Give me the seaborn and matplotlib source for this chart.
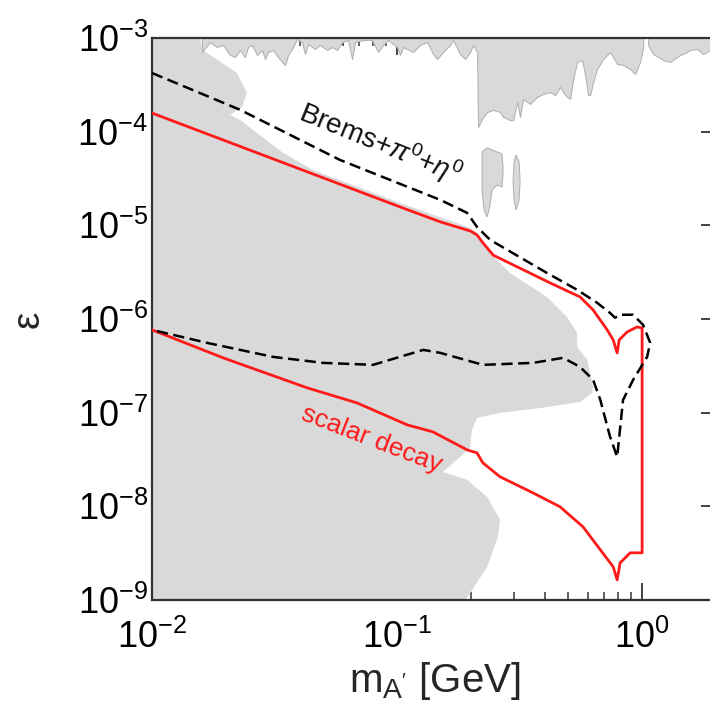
import numpy as np
import pandas as pd
import seaborn as sns
import matplotlib.pyplot as plt

# ---------- data (mass in GeV, epsilon) ----------
# red solid contour, upper and lower branches (left to right)
red_upper_m = [0.0100, 0.103, 0.150, 0.199, 0.212, 0.224, 0.247, 0.421, 0.558,
               0.631, 0.720, 0.762, 0.791, 0.806, 0.869, 0.955, 1.0]
red_upper_eps = [1.58e-4, 1.57e-5, 1.09e-5, 8.7e-6, 7.9e-6, 6.5e-6, 4.8e-6, 2.43e-6, 1.72e-6,
                 1.25e-6, 7.66e-7, 5.98e-7, 4.35e-7, 5.98e-7, 7.28e-7, 8.24e-7, 8.0e-7]
red_lower_m = [0.0100, 0.0195, 0.0430, 0.0687, 0.110, 0.140, 0.193, 0.212, 0.224, 0.263,
               0.359, 0.462, 0.574, 0.675, 0.762, 0.791, 0.813, 0.894, 1.0]
red_lower_eps = [7.66e-7, 3.85e-7, 1.84e-7, 1.27e-7, 7.41e-8, 6.24e-8, 4.01e-8, 3.72e-8, 2.91e-8, 2.07e-8,
                 1.39e-8, 9.9e-9, 6.04e-9, 3.44e-9, 2.26e-9, 1.64e-9, 2.49e-9, 3.19e-9, 3.19e-9]

# black dashed contour (Brems + pi0 + eta0), traced as one closed path
brems_m = [0.0100, 0.0229, 0.0585, 0.150, 0.193, 0.212, 0.240, 0.409, 0.543, 0.655,
           0.740, 0.776, 0.813, 0.919, 1.009, 1.079, 1.048, 0.919, 0.836, 0.791,
           0.740, 0.675, 0.631, 0.558, 0.476, 0.359, 0.224, 0.150, 0.128, 0.0798,
           0.0499, 0.0312, 0.0168, 0.0100]
brems_eps = [4.23e-4, 1.71e-4, 4.99e-5, 1.87e-5, 1.36e-5, 9.6e-6, 6.98e-6, 3.10e-6, 2.05e-6, 1.49e-6,
             1.16e-6, 1.03e-6, 1.11e-6, 1.11e-6, 8.65e-7, 5.56e-7, 3.94e-7, 2.24e-7, 1.37e-7, 3.37e-8,
             5.52e-8, 1.37e-7, 2.24e-7, 3.08e-7, 3.85e-7, 3.40e-7, 3.24e-7, 4.35e-7, 4.68e-7, 3.24e-7,
             3.40e-7, 3.94e-7, 5.56e-7, 7.66e-7]

# excluded region (grey), lower left
excl_m = [0.01, 0.01, 0.0157, 0.0161, 0.0222, 0.0244, 0.0233, 0.0208, 0.0229, 0.0343,
          0.0454, 0.103, 0.199, 0.212, 0.240, 0.289, 0.409, 0.494, 0.543, 0.543,
          0.597, 0.631, 0.627, 0.558, 0.384, 0.263, 0.212, 0.202, 0.199, 0.181,
          0.154, 0.193, 0.233, 0.263, 0.258, 0.233, 0.199, 0.190]
excl_eps = [1e-9, 1e-3, 1e-3, 7.45e-4, 4.23e-4, 2.59e-4, 1.84e-4, 1.51e-4, 1.33e-4, 5.93e-5,
            3.90e-5, 1.73e-5, 9.4e-6, 8.3e-6, 5.07e-6, 3.10e-6, 1.72e-6, 1.05e-6, 7.11e-7, 5.04e-7,
            3.66e-7, 1.88e-7, 1.63e-7, 1.30e-7, 1.12e-7, 9.95e-8, 8.8e-8, 6.55e-8, 4.31e-8, 3.37e-8,
            2.33e-8, 1.92e-8, 1.26e-8, 7.18e-9, 4.72e-9, 2.26e-9, 1.19e-9, 1e-9]

# excluded region hanging from the top (lower edge), two pieces
top1_m = [0.0160, 0.01725, 0.01842, 0.01949, 0.02082, 0.02182, 0.02287, 0.02396, 0.02465, 0.02559,
          0.02683, 0.02812, 0.02892, 0.02975, 0.03118, 0.03268, 0.03491, 0.03591, 0.03728, 0.03906,
          0.04095, 0.04212, 0.04332, 0.04627, 0.04850, 0.05179, 0.05428, 0.05690, 0.05964, 0.0631,
          0.06551, 0.06739, 0.07263, 0.07906, 0.08365, 0.08768, 0.09190, 0.1, 0.1028, 0.1058,
          0.1162, 0.1241, 0.1326, 0.1402, 0.1456, 0.1541, 0.1646, 0.1692, 0.1807, 0.1895,
          0.1986, 0.2042, 0.2121, 0.2141, 0.2223, 0.2330, 0.2465, 0.2633, 0.2708, 0.2892,
          0.2975, 0.3089, 0.3177, 0.3268, 0.3491, 0.3728, 0.3944, 0.4212, 0.4415, 0.4627,
          0.4850, 0.5083, 0.5229, 0.5428, 0.5690, 0.5853, 0.6022, 0.6136, 0.6310, 0.6551,
          0.6931, 0.7403, 0.7906, 0.8365, 0.8933, 0.9363, 0.9813, 1.0095]
top1_eps = [7.09e-4, 9.06e-4, 8.01e-4, 8.42e-4, 6.59e-4, 6.27e-4, 7.45e-4, 6.27e-4, 8.01e-4, 8.42e-4,
            6.59e-4, 7.45e-4, 5.97e-4, 7.09e-4, 7.45e-4, 6.27e-4, 5.15e-4, 6.59e-4, 7.63e-4, 9.76e-4,
            9.06e-4, 6.75e-4, 8.63e-4, 7.63e-4, 8.42e-4, 7.45e-4, 8.01e-4, 7.45e-4, 9.06e-4, 9.53e-4,
            5.97e-4, 9.06e-4, 9.53e-4, 9.53e-4, 7.09e-4, 8.42e-4, 9.53e-4, 8.01e-4, 6.59e-4, 8.01e-4,
            7.09e-4, 8.42e-4, 9.06e-4, 6.75e-4, 5.97e-4, 7.09e-4, 8.42e-4, 9.53e-4, 6.75e-4, 5.97e-4,
            7.09e-4, 8.42e-4, 7.09e-4, 1.12e-4, 1.37e-4, 1.62e-4, 1.71e-4, 1.62e-4, 1.44e-4, 1.33e-4,
            1.33e-4, 2.07e-4, 1.44e-4, 2.23e-4, 1.98e-4, 2.35e-4, 2.53e-4, 2.65e-4, 2.46e-4, 3.00e-4,
            2.46e-4, 2.23e-4, 3.65e-4, 5.55e-4, 5.83e-4, 4.03e-4, 2.46e-4, 2.46e-4, 3.39e-4, 4.67e-4,
            5.97e-4, 7.09e-4, 5.28e-4, 5.15e-4, 4.67e-4, 4.13e-4, 5.55e-4, 8.01e-4]
top2_m = [1.058, 1.109, 1.218, 1.301, 1.390, 1.429, 1.527, 1.570, 1.677, 1.774, 1.895, 2.1]
top2_eps = [8.42e-4, 6.75e-4, 5.83e-4, 5.55e-4, 6.27e-4, 6.59e-4, 7.09e-4, 7.45e-4, 7.63e-4, 6.75e-4,
            7.45e-4, 7.45e-4]

# two small grey islands near 0.25-0.32 GeV
isl1_m = [0.2223, 0.2330, 0.2442, 0.2559, 0.2683, 0.2708, 0.2683, 0.2559, 0.2442, 0.2397,
          0.2330, 0.2265, 0.2223, 0.2223]
isl1_eps = [6.07e-5, 6.70e-5, 6.38e-5, 6.07e-5, 5.78e-5, 3.90e-5, 2.57e-5, 2.70e-5, 2.39e-5, 1.65e-5,
            1.23e-5, 1.46e-5, 2.39e-5, 3.90e-5]
isl2_m = [0.3059, 0.3148, 0.3177, 0.3148, 0.3059, 0.3003, 0.2975, 0.3003]
isl2_eps = [5.64e-5, 4.75e-5, 2.90e-5, 1.87e-5, 1.46e-5, 1.87e-5, 2.90e-5, 4.75e-5]

# ---------- figure ----------
sns.set_theme(style='ticks')
plt.rcParams['font.family'] = ['Liberation Sans', 'DejaVu Sans']
plt.rcParams['mathtext.fontset'] = 'custom'
plt.rcParams['mathtext.rm'] = 'Liberation Sans'
plt.rcParams['mathtext.it'] = 'Liberation Sans:italic'

fig = plt.figure(figsize=(7.1, 7.05), dpi=100)
# right spine sits just outside the picture, as in the reference
ax = fig.add_axes([152 / 710, 1 - 600 / 705, 566 / 710, 562 / 705])
ax.set_xscale('log')
ax.set_yscale('log')

grey = '#d9d9d9'
ax.fill(excl_m, excl_eps, color=grey, lw=0, zorder=1)
ax.fill_between(top1_m, top1_eps, 1e-3, color=grey, edgecolor='#b3b3b3', lw=0.8, zorder=1)
ax.fill_between(top2_m, top2_eps, 1e-3, color=grey, edgecolor='#b3b3b3', lw=0.8, zorder=1)
ax.fill(isl1_m, isl1_eps, color=grey, edgecolor='#b3b3b3', lw=0.8, zorder=1)
ax.fill(isl2_m, isl2_eps, color=grey, edgecolor='#b3b3b3', lw=0.8, zorder=1)

red = pd.DataFrame({'m': red_upper_m + red_lower_m[::-1],
                    'eps': red_upper_eps + red_lower_eps[::-1]})
brems = pd.DataFrame({'m': brems_m, 'eps': brems_eps})

sns.lineplot(data=red, x='m', y='eps', sort=False, estimator=None,
             color='#ff1a1a', lw=2.0, ax=ax, zorder=3)
sns.lineplot(data=brems, x='m', y='eps', sort=False, estimator=None,
             color='black', lw=1.8, linestyle=(0, (4.5, 2.2)), ax=ax, zorder=3)

ax.set_xlim(0.01, 2.04)
ax.set_ylim(1e-9, 1e-3)

ax.text(0.0391, 1.33e-4, r'Brems+$\pi^0$+$\eta^0$', fontsize=20, rotation=-22,
        rotation_mode='anchor', color='#111111')
ax.text(0.0402, 8.4e-8, 'scalar decay', fontsize=19, rotation=-21,
        rotation_mode='anchor', color='#ff1a1a')

ax.set_xlabel(r"m$_{\mathregular{A'}}$ [GeV]", fontsize=29, labelpad=3)
ax.set_ylabel('ε', fontsize=28, labelpad=22)

ax.tick_params(which='both', direction='in', top=True, right=True, colors='#333333',
               labelcolor='black')
ax.tick_params(which='major', length=12, width=1.3, labelsize=26)
ax.tick_params(axis='x', which='major', pad=14)
ax.tick_params(axis='y', which='major', pad=3)
ax.tick_params(which='minor', length=6, width=1.1)
for s in ax.spines.values():
    s.set_linewidth(1.6)
    s.set_color('#333333')

fig.savefig('out.png', dpi=100)
